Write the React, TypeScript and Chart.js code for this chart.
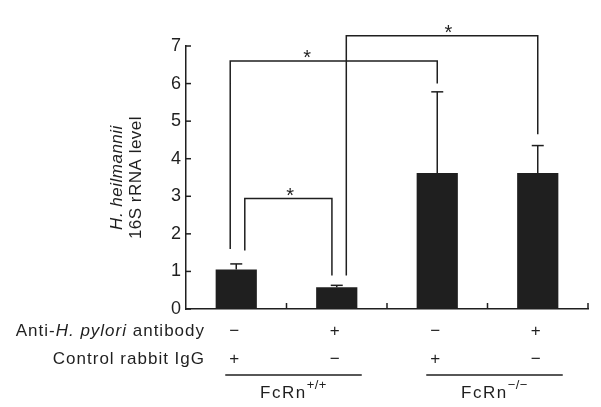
import React, { useEffect, useRef } from "react";
import { Chart, registerables } from "chart.js";

Chart.register(...registerables);

// ---- data ----
const categories = ["A", "B", "C", "D"];
const antiHPyloriRow = ["−", "+", "−", "+"];
const controlIgGRow = ["+", "−", "+", "−"];
const values = [1.05, 0.58, 3.62, 3.62];
const errorTops = [1.2, 0.63, 5.78, 4.35];
const yTicks = [0, 1, 2, 3, 4, 5, 6, 7];
const groupLabels = ["FcRn", "FcRn"];
const groupSups = ["+/+", "−/−"];
const groupFrom = [0, 2];
const groupTo = [1, 3];
// significance brackets (category index, y values in data units)
const bracketFrom = [0, 0, 1];
const bracketTo = [2, 1, 3];
const bracketTop = [6.6, 2.94, 7.27];
const bracketFromBottom = [1.6, 1.56, 0.89];
const bracketToBottom = [6.0, 0.89, 4.65];
const bracketStar = [0.706, 0.537, 2.11];

// ---- styling / positions ----
const INK = "#1f1f1f";
const FONT = "'Liberation Sans', Arial, Helvetica, sans-serif";
const bracketFromShift = [-0.06, 0.085, 0.095];
const bracketToShift = [0, -0.048, 0];

const overlayPlugin = {
  id: "overlay",
  afterDraw(chart: any) {
    const ctx: CanvasRenderingContext2D = chart.ctx;
    const xs = chart.scales.x;
    const ys = chart.scales.y;
    const ca = chart.chartArea;
    const step = xs.getPixelForValue(1) - xs.getPixelForValue(0);
    const px = (v: number) => xs.getPixelForValue(0) + v * step;
    const py = (v: number) => ys.getPixelForValue(v);
    const line = (x1: number, y1: number, x2: number, y2: number) => {
      ctx.beginPath();
      ctx.moveTo(x1, y1);
      ctx.lineTo(x2, y2);
      ctx.stroke();
    };
    ctx.save();
    ctx.strokeStyle = INK;
    ctx.fillStyle = INK;
    ctx.lineWidth = 1.5;
    ctx.lineCap = "butt";

    // inward y ticks
    yTicks.forEach((t) => {
      const yy = py(t);
      line(ca.left, yy, ca.left + 5, yy);
    });
    // inward x ticks at category boundaries
    for (let i = 1; i <= categories.length; i++) {
      const xx = px(i - 0.5);
      line(xx, ca.bottom, xx, ca.bottom - 6);
    }

    // error bars
    values.forEach((v, i) => {
      const cx = px(i);
      line(cx, py(v), cx, py(errorTops[i]));
      line(cx - 6, py(errorTops[i]), cx + 6, py(errorTops[i]));
    });

    // brackets
    ctx.font = `20px ${FONT}`;
    ctx.textAlign = "center";
    ctx.textBaseline = "alphabetic";
    bracketFrom.forEach((f, i) => {
      const x1 = px(f + bracketFromShift[i]);
      const x2 = px(bracketTo[i] + bracketToShift[i]);
      const yt = py(bracketTop[i]);
      ctx.beginPath();
      ctx.moveTo(x1, py(bracketFromBottom[i]));
      ctx.lineTo(x1, yt);
      ctx.lineTo(x2, yt);
      ctx.lineTo(x2, py(bracketToBottom[i]));
      ctx.stroke();
      ctx.fillText("*", px(bracketStar[i]), yt + 3);
    });

    // y-axis title
    const midY = (ca.top + ca.bottom) / 2;
    ctx.save();
    (ctx as any).letterSpacing = "0.5px";
    ctx.translate(117, midY);
    ctx.rotate(-Math.PI / 2);
    ctx.textAlign = "center";
    ctx.textBaseline = "middle";
    ctx.font = `italic 17px ${FONT}`;
    ctx.fillText("H. heilmannii", 0, 0);
    ctx.font = `17px ${FONT}`;
    ctx.fillText("16S rRNA level", 0, 19);
    ctx.restore();

    // row labels
    (ctx as any).letterSpacing = "1px";
    ctx.textBaseline = "alphabetic";
    const rightX = 205;
    const row1Y = 335.5;
    const row2Y = 363.5;
    const parts: [string, boolean][] = [
      ["Anti-", false],
      ["H. pylori", true],
      [" antibody", false],
    ];
    let total = 0;
    parts.forEach(([t, it]) => {
      ctx.font = `${it ? "italic " : ""}17px ${FONT}`;
      total += ctx.measureText(t).width;
    });
    let cx = rightX - total;
    ctx.textAlign = "left";
    parts.forEach(([t, it]) => {
      ctx.font = `${it ? "italic " : ""}17px ${FONT}`;
      ctx.fillText(t, cx, row1Y);
      cx += ctx.measureText(t).width;
    });
    ctx.font = `17px ${FONT}`;
    ctx.textAlign = "right";
    ctx.fillText("Control rabbit IgG", rightX, row2Y);

    // +/- signs
    (ctx as any).letterSpacing = "0px";
    ctx.textAlign = "center";
    categories.forEach((_, i) => {
      const sx = px(i) - 2;
      ctx.fillText(antiHPyloriRow[i], sx, row1Y);
      ctx.fillText(controlIgGRow[i], sx, row2Y);
    });

    // group lines and labels
    groupLabels.forEach((g, i) => {
      const x1 = px(groupFrom[i]) - 11;
      const x2 = px(groupTo[i]) + 25;
      line(x1, 375, x2, 375);
      (ctx as any).letterSpacing = "1.5px";
      ctx.font = `17px ${FONT}`;
      const w1 = ctx.measureText(g).width;
      (ctx as any).letterSpacing = "0.5px";
      ctx.font = `13px ${FONT}`;
      const w2 = ctx.measureText(groupSups[i]).width;
      const start = (x1 + x2) / 2 - (w1 + w2) / 2;
      ctx.textAlign = "left";
      (ctx as any).letterSpacing = "1.5px";
      ctx.font = `17px ${FONT}`;
      ctx.fillText(g, start, 397.5);
      (ctx as any).letterSpacing = "0.5px";
      ctx.font = `13px ${FONT}`;
      ctx.fillText(groupSups[i], start + w1, 389);
    });

    ctx.restore();
  },
};

export default function App() {
  const ref = useRef<HTMLCanvasElement | null>(null);
  useEffect(() => {
    document.body.style.margin = "0";
    const canvas = ref.current!;
    const chart = new Chart(canvas, {
      type: "bar",
      data: {
        labels: categories,
        datasets: [
          {
            data: values,
            backgroundColor: INK,
            borderWidth: 0,
            barPercentage: 0.41,
            categoryPercentage: 1,
          },
        ],
      },
      options: {
        animation: false,
        responsive: false,
        devicePixelRatio: 1,
        layout: { padding: { top: 46, right: 13, left: 0, bottom: 0 } },
        plugins: {
          legend: { display: false },
          tooltip: { enabled: false },
          title: { display: false },
        },
        scales: {
          x: {
            offset: true,
            grid: { display: false, drawTicks: false },
            border: { display: true, color: INK, width: 1.5 },
            ticks: { display: false },
            afterFit: (s: any) => {
              s.height = 98;
            },
          },
          y: {
            min: 0,
            max: 7,
            grid: { display: false, drawTicks: false },
            border: { display: true, color: INK, width: 1.5 },
            ticks: {
              stepSize: 1,
              padding: 5,
              color: INK,
              font: { family: FONT, size: 18 },
            },
            afterFit: (s: any) => {
              s.width = 186;
            },
          },
        },
      },
      plugins: [overlayPlugin],
    });
    return () => chart.destroy();
  }, []);
  return (
    <div style={{ position: "absolute", left: 0, top: 0, width: 601, height: 407, background: "#fff" }}>
      <canvas ref={ref} width={601} height={407} style={{ width: 601, height: 407, display: "block" }} />
    </div>
  );
}
